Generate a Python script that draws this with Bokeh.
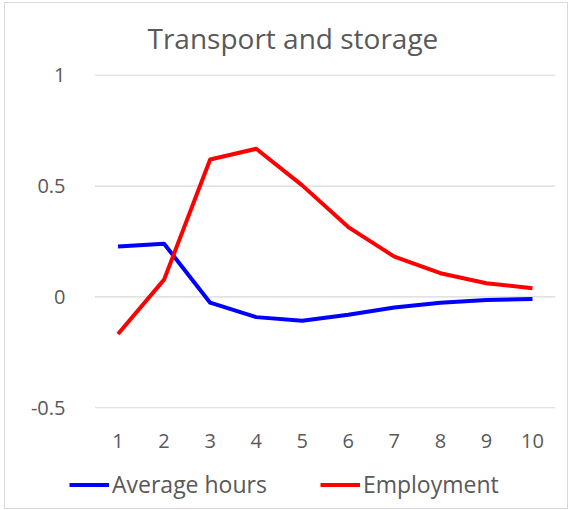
from bokeh.plotting import figure
from bokeh.models import Range1d, FixedTicker, Legend, LegendItem, Title
from bokeh.layouts import column
from bokeh.embed import file_html
from bokeh.resources import INLINE

periods = [1, 2, 3, 4, 5, 6, 7, 8, 9, 10]
average_hours = [0.228, 0.240, -0.026, -0.091, -0.107, -0.080, -0.048, -0.026, -0.014, -0.009]
employment = [-0.167, 0.078, 0.620, 0.668, 0.503, 0.315, 0.182, 0.107, 0.062, 0.039]
y_ticks = [-0.5, 0, 0.5, 1]
y_tick_labels = ["-0.5", "0", "0.5", "1"]
title_text = "Transport and storage"
series_names = ["Average hours", "Employment"]
series_colors = ["#0000ff", "#ff0000"]
series_values = [average_hours, employment]

FONT = "Open Sans"
TXT = "#595959"
GRID = "#d9d9d9"

p = figure(width=562, height=457, output_backend="svg", toolbar_location=None,
           x_range=Range1d(-0.054, 10.5), y_range=Range1d(-0.503, 1.003),
           min_border_left=64, min_border_right=12, min_border_top=71, min_border_bottom=52)
p.outline_line_color = None
p.background_fill_color = "white"
p.border_fill_color = "white"

p.add_layout(Title(text=title_text, text_font=FONT, text_font_size="28px",
                   text_color=TXT, text_font_style="normal", align="left",
                   vertical_align="top", offset=78, standoff=31), "above")

p.xaxis.ticker = FixedTicker(ticks=periods)
p.yaxis.ticker = FixedTicker(ticks=y_ticks)
p.yaxis.major_label_overrides = {t: l for t, l in zip(y_ticks, y_tick_labels)}
p.xaxis.major_label_overrides = {t: str(t) for t in periods}
for ax in (p.xaxis, p.yaxis):
    ax.axis_line_color = None
    ax.major_tick_line_color = None
    ax.minor_tick_line_color = None
    ax.major_tick_out = 0
    ax.major_tick_in = 0
    ax.minor_tick_out = 0
    ax.minor_tick_in = 0
    ax.major_label_text_font = FONT
    ax.major_label_text_font_size = "20px"
    ax.major_label_text_color = TXT
p.yaxis.major_label_standoff = 4
p.xaxis.major_label_standoff = 25

# horizontal gridlines spanning the category area only
p.xgrid.grid_line_color = None
p.ygrid.grid_line_color = None
x_lo = periods[0] - 0.5
x_hi = periods[-1] + 0.5
p.segment(x0=[x_lo] * len(y_ticks), x1=[x_hi] * len(y_ticks), y0=y_ticks, y1=y_ticks,
          line_color=GRID, line_width=1.2, level="underlay")

for vals, c in zip(series_values, series_colors):
    p.line(periods, vals, line_color=c, line_width=4, line_join="round")

# legend strip below the chart (its proxy lines lie outside its own view)
pl = figure(width=562, height=48, output_backend="svg", toolbar_location=None,
            x_axis_type=None, y_axis_type=None, min_border=0,
            x_range=Range1d(100, 101), y_range=Range1d(100, 101))
pl.outline_line_color = None
pl.xgrid.visible = False
pl.ygrid.visible = False
pl.border_fill_color = "white"
pl.background_fill_color = "white"
leg_r = [pl.line(periods, vals, line_color=c, line_width=4)
         for vals, c in zip(series_values, series_colors)]
legend = Legend(items=[LegendItem(label=n, renderers=[r]) for n, r in zip(series_names, leg_r)],
                orientation="horizontal", location=(0, 8),
                label_text_font=FONT, label_text_font_size="23px", label_text_color=TXT,
                glyph_width=40, glyph_height=31, label_standoff=3, spacing=53,
                padding=0, margin=0, border_line_color=None, background_fill_alpha=0)
pl.add_layout(legend, "center")

layout = column(p, pl, spacing=0)
layout.styles = {"margin-left": "5px", "margin-top": "3px", "outline": "1px solid #d9d9d9"}

open("out.html", "w").write(file_html(layout, INLINE))
